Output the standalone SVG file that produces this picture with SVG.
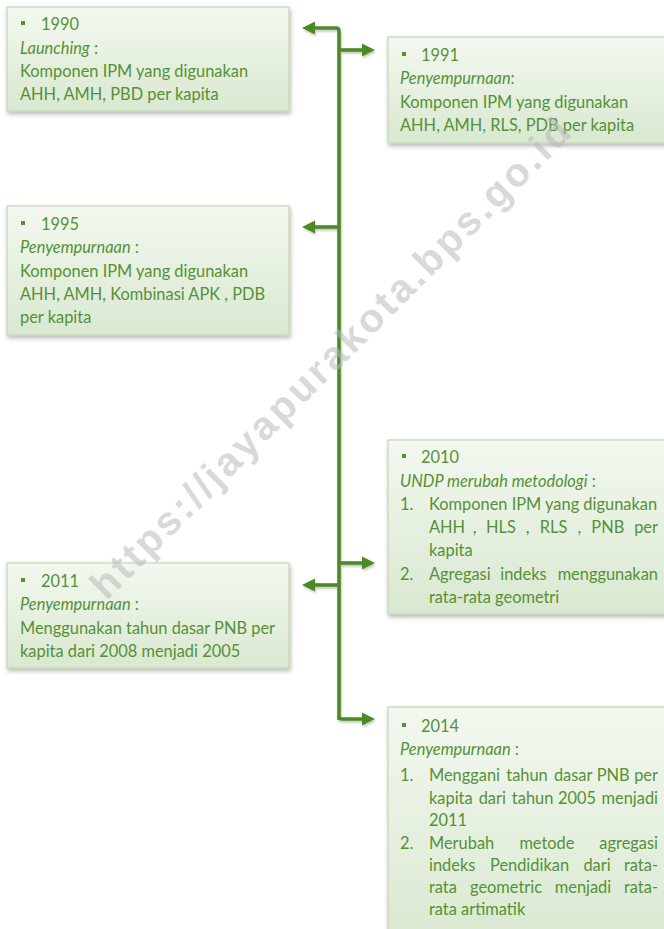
<svg xmlns="http://www.w3.org/2000/svg" width="664" height="929" viewBox="0 0 664 929">
<defs>
<linearGradient id="boxfill" x1="0" y1="0" x2="0" y2="1">
<stop offset="0" stop-color="#f3f8f0"/>
<stop offset="1" stop-color="#d9e8d0"/>
</linearGradient>
<filter id="shadow" x="-10%" y="-10%" width="130%" height="130%">
<feDropShadow dx="1" dy="2.5" stdDeviation="2" flood-color="#000" flood-opacity="0.28"/>
</filter>
<filter id="lshadow" filterUnits="userSpaceOnUse" x="0" y="0" width="664" height="929">
<feDropShadow dx="1" dy="2" stdDeviation="1.2" flood-color="#000" flood-opacity="0.22"/>
</filter>
<marker id="arrow" markerWidth="14" markerHeight="14" refX="2" refY="7" orient="auto" markerUnits="userSpaceOnUse">
<path d="M0,0.5 L13,7 L0,13.5 Z" fill="#4e8a28"/>
</marker>
</defs>
<style>
.box{fill:url(#boxfill);stroke:#c2d8b4;stroke-width:1.2;filter:url(#shadow)}
.t{font-family:Lato,"Liberation Sans",sans-serif;font-size:16.4px;fill:#559136}
.i{font-style:italic}
.e{text-anchor:end}
.m{text-anchor:middle}
.b{fill:#559136}
.conn{fill:none;stroke:#4e8a28;stroke-width:3.6;stroke-linejoin:round}
.wm{font-family:"Liberation Sans",Arial,sans-serif;font-weight:bold;font-size:40px;fill:#b8b8b8;fill-opacity:0.55;text-anchor:middle}
</style>
<rect width="664" height="929" fill="#ffffff"/>

<g id="connectors" filter="url(#lshadow)">
<path class="conn" d="M339,720 L339,31 Q339,28 336,28 L313,28" marker-end="url(#arrow)"/>
<path class="conn" d="M339,50 L364,50" marker-end="url(#arrow)"/>
<path class="conn" d="M339,227 L313,227" marker-end="url(#arrow)"/>
<path class="conn" d="M339,563 L364,563" marker-end="url(#arrow)"/>
<path class="conn" d="M339,585 L313,585" marker-end="url(#arrow)"/>
<path class="conn" d="M339,716 Q339,719 342,719 L364,719" marker-end="url(#arrow)"/>
</g>

<g id="node-1990">
<rect class="box" x="7" y="7" width="282" height="104"/>
<rect class="b" x="21" y="21" width="4" height="4"/>
<text class="t" x="41" y="30">1990</text>
<text class="t" x="20" y="54"><tspan class="i">Launching</tspan> :</text>
<text class="t" x="20" y="77">Komponen IPM yang digunakan</text>
<text class="t" x="20" y="100">AHH, AMH, PBD per kapita</text>
</g>

<g id="node-1991">
<rect class="box" x="388" y="37" width="290" height="106"/>
<rect class="b" x="402" y="52" width="4" height="4"/>
<text class="t" x="421" y="61">1991</text>
<text class="t" x="400" y="84"><tspan class="i">Penyempurnaan</tspan>:</text>
<text class="t" x="400" y="108">Komponen IPM yang digunakan</text>
<text class="t" x="400" y="131">AHH, AMH, RLS, PDB per kapita</text>
</g>

<g id="node-1995">
<rect class="box" x="7" y="206" width="282" height="129"/>
<rect class="b" x="21" y="221" width="4" height="4"/>
<text class="t" x="41" y="230">1995</text>
<text class="t" x="20" y="253"><tspan class="i">Penyempurnaan</tspan> :</text>
<text class="t" x="20" y="277">Komponen IPM yang digunakan</text>
<text class="t" x="20" y="300">AHH, AMH, Kombinasi APK , PDB</text>
<text class="t" x="20" y="323">per kapita</text>
</g>

<g id="node-2010">
<rect class="box" x="388" y="440" width="290" height="174"/>
<rect class="b" x="402" y="454" width="4" height="4"/>
<text class="t" x="421" y="463">2010</text>
<text class="t" x="400" y="487"><tspan class="i">UNDP merubah metodologi</tspan> :</text>
<text class="t" x="400" y="510">1.</text>
<text class="t" x="429" y="510">Komponen IPM yang digunakan</text>
<text class="t" x="429" y="533">AHH</text>
<text class="t m" y="533"><tspan x="474.5">,</tspan><tspan x="501">HLS</tspan><tspan x="527.7">,</tspan><tspan x="553.5">RLS</tspan><tspan x="579.4">,</tspan><tspan x="607.8">PNB</tspan></text>
<text class="t e" x="658" y="533">per</text>
<text class="t" x="429" y="556">kapita</text>
<text class="t" x="400" y="580">2.</text>
<text class="t" x="429" y="580">Agregasi</text>
<text class="t m" x="523.4" y="580">indeks</text>
<text class="t e" x="658" y="580">menggunakan</text>
<text class="t" x="429" y="603">rata-rata geometri</text>
</g>

<g id="node-2011">
<rect class="box" x="7" y="563" width="282" height="105"/>
<rect class="b" x="21" y="578" width="4" height="4"/>
<text class="t" x="41" y="587">2011</text>
<text class="t" x="20" y="610"><tspan class="i">Penyempurnaan</tspan> :</text>
<text class="t" x="20" y="634">Menggunakan tahun dasar PNB per</text>
<text class="t" x="20" y="657">kapita dari 2008 menjadi 2005</text>
</g>

<g id="node-2014">
<rect class="box" x="388" y="707" width="290" height="240"/>
<rect class="b" x="402" y="723" width="4" height="4"/>
<text class="t" x="421" y="732">2014</text>
<text class="t" x="400" y="755"><tspan class="i">Penyempurnaan</tspan> :</text>
<text class="t" x="400" y="781">1.</text>
<text class="t" x="429" y="781">Menggani</text>
<text class="t m" y="781"><tspan x="527">tahun</tspan><tspan x="573.2">dasar</tspan><tspan x="613.2">PNB</tspan></text>
<text class="t e" x="658" y="781">per</text>
<text class="t" x="429" y="804">kapita</text>
<text class="t m" y="804"><tspan x="492.3">dari</tspan><tspan x="532.6">tahun</tspan><tspan x="576.9">2005</tspan></text>
<text class="t e" x="658" y="804">menjadi</text>
<text class="t" x="429" y="826">2011</text>
<text class="t" x="400" y="849">2.</text>
<text class="t" x="429" y="849">Merubah</text>
<text class="t m" x="546.9" y="849">metode</text>
<text class="t e" x="658" y="849">agregasi</text>
<text class="t" x="429" y="871">indeks</text>
<text class="t m" y="871"><tspan x="529.5">Pendidikan</tspan><tspan x="597">dari</tspan></text>
<text class="t e" x="658" y="871">rata-</text>
<text class="t" x="429" y="893">rata</text>
<text class="t m" y="893"><tspan x="506">geometric</tspan><tspan x="583">menjadi</tspan></text>
<text class="t e" x="658" y="893">rata-</text>
<text class="t" x="429" y="915">rata artimatik</text>
</g>

<g id="watermark">
<text class="wm" transform="translate(330,358) rotate(-45)" x="0" y="14" textLength="660" lengthAdjust="spacing">https://jayapurakota.bps.go.id</text>
</g>
</svg>
